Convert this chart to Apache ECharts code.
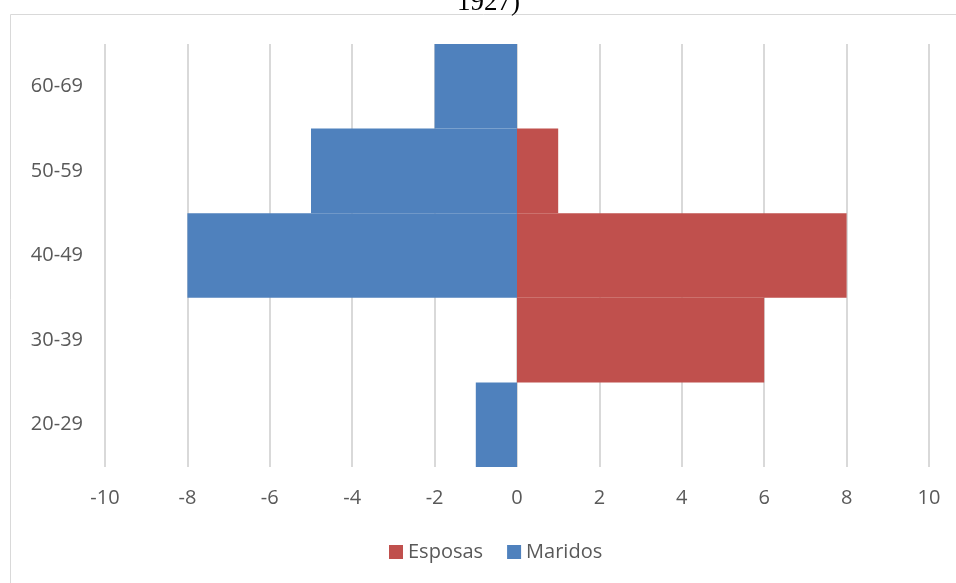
<!DOCTYPE html>
<html>
<head>
<meta charset="utf-8">
<script src="https://cdn.jsdelivr.net/npm/echarts@6/dist/echarts.min.js"></script>
<style>
  html, body { margin: 0; padding: 0; background: #fff; }
  #container { width: 956px; height: 583px; }
</style>
</head>
<body>
<div id="container"></div>
<script>
// grupos de edad (de abajo hacia arriba)
var categories = ['20-29', '30-39', '40-49', '50-59', '60-69'];
var esposas = [0, 6, 8, 1, 0];
var maridos = [-1, 0, -8, -5, -2];
var xTicks = [-10, -8, -6, -4, -2, 0, 2, 4, 6, 8, 10];

var dom = document.getElementById('container');
var myChart = echarts.init(dom);
var option = {
    animation: false,
    graphic: [
        {
            type: 'rect',
            shape: { x: 10.5, y: 14.5, width: 960, height: 600 },
            style: { fill: 'none', stroke: '#d9d9d9', lineWidth: 1 },
            z: -1
        },
        {
            type: 'text',
            left: 457,
            top: -11,
            style: { text: '1927)', font: '27px "Liberation Serif"', fill: '#000' }
        }
    ],
    legend: {
        bottom: 16,
        left: 384,
        itemWidth: 14,
        itemHeight: 14,
        itemGap: 24,
        icon: 'rect',
        data: ['Esposas', 'Maridos'],
        textStyle: { color: '#595959', fontSize: 20, fontFamily: 'Open Sans' }
    },
    grid: {
        left: 105,
        right: 27,
        top: 44,
        bottom: 116
    },
    xAxis: {
        type: 'value',
        min: xTicks[0],
        max: xTicks[xTicks.length - 1],
        interval: 2,
        axisLine: { show: false },
        axisTick: { show: false },
        axisLabel: { color: '#595959', fontSize: 20, fontFamily: 'Open Sans', margin: 21 },
        splitLine: { lineStyle: { color: '#d9d9d9', width: 2 } }
    },
    yAxis: {
        type: 'category',
        data: categories,
        axisLine: { show: false },
        axisTick: { show: false },
        axisLabel: { color: '#595959', fontSize: 20, fontFamily: 'Open Sans', margin: 22 }
    },
    series: [
        {
            name: 'Esposas',
            type: 'bar',
            stack: 'total',
            barCategoryGap: '0%',
            itemStyle: { color: '#c0504d' },
            data: esposas
        },
        {
            name: 'Maridos',
            type: 'bar',
            stack: 'total',
            barCategoryGap: '0%',
            itemStyle: { color: '#4f81bd' },
            data: maridos
        }
    ]
};
myChart.setOption(option);
</script>
</body>
</html>
